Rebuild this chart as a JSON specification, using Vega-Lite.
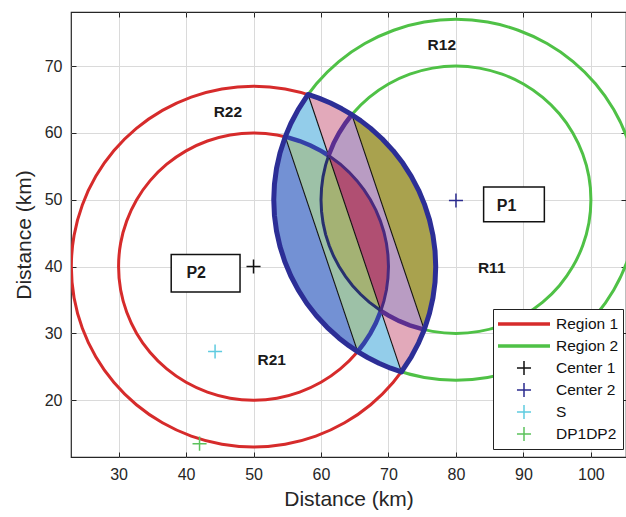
{
"$schema":"https://vega.github.io/schema/vega-lite/v6.json",
"width":555,"height":445,
"autosize":{"type":"none"},
"padding":{"left":71,"top":12,"right":0,"bottom":60},
"background":"white",
"datasets":{
"circles":[
{"c":"RO","s":"Region 1","i":0,"x":77,"y":40},{"c":"RO","s":"Region 1","i":1,"x":76.59,"y":44.69},{"c":"RO","s":"Region 1","i":2,"x":75.37,"y":49.23},{"c":"RO","s":"Region 1","i":3,"x":73.38,"y":53.5},{"c":"RO","s":"Region 1","i":4,"x":70.68,"y":57.36},{"c":"RO","s":"Region 1","i":5,"x":67.36,"y":60.68},{"c":"RO","s":"Region 1","i":6,"x":63.5,"y":63.38},{"c":"RO","s":"Region 1","i":7,"x":59.23,"y":65.37},{"c":"RO","s":"Region 1","i":8,"x":54.69,"y":66.59},{"c":"RO","s":"Region 1","i":9,"x":50,"y":67},{"c":"RO","s":"Region 1","i":10,"x":45.31,"y":66.59},{"c":"RO","s":"Region 1","i":11,"x":40.77,"y":65.37},{"c":"RO","s":"Region 1","i":12,"x":36.5,"y":63.38},{"c":"RO","s":"Region 1","i":13,"x":32.64,"y":60.68},{"c":"RO","s":"Region 1","i":14,"x":29.32,"y":57.36},{"c":"RO","s":"Region 1","i":15,"x":26.62,"y":53.5},{"c":"RO","s":"Region 1","i":16,"x":24.63,"y":49.23},{"c":"RO","s":"Region 1","i":17,"x":23.41,"y":44.69},{"c":"RO","s":"Region 1","i":18,"x":23,"y":40},{"c":"RO","s":"Region 1","i":19,"x":23.41,"y":35.31},{"c":"RO","s":"Region 1","i":20,"x":24.63,"y":30.77},{"c":"RO","s":"Region 1","i":21,"x":26.62,"y":26.5},{"c":"RO","s":"Region 1","i":22,"x":29.32,"y":22.64},{"c":"RO","s":"Region 1","i":23,"x":32.64,"y":19.32},{"c":"RO","s":"Region 1","i":24,"x":36.5,"y":16.62},{"c":"RO","s":"Region 1","i":25,"x":40.77,"y":14.63},{"c":"RO","s":"Region 1","i":26,"x":45.31,"y":13.41},{"c":"RO","s":"Region 1","i":27,"x":50,"y":13},{"c":"RO","s":"Region 1","i":28,"x":54.69,"y":13.41},{"c":"RO","s":"Region 1","i":29,"x":59.23,"y":14.63},{"c":"RO","s":"Region 1","i":30,"x":63.5,"y":16.62},{"c":"RO","s":"Region 1","i":31,"x":67.36,"y":19.32},{"c":"RO","s":"Region 1","i":32,"x":70.68,"y":22.64},{"c":"RO","s":"Region 1","i":33,"x":73.38,"y":26.5},{"c":"RO","s":"Region 1","i":34,"x":75.37,"y":30.77},{"c":"RO","s":"Region 1","i":35,"x":76.59,"y":35.31},
{"c":"RI","s":"Region 1","i":0,"x":70,"y":40},{"c":"RI","s":"Region 1","i":1,"x":69.7,"y":43.47},{"c":"RI","s":"Region 1","i":2,"x":68.79,"y":46.84},{"c":"RI","s":"Region 1","i":3,"x":67.32,"y":50},{"c":"RI","s":"Region 1","i":4,"x":65.32,"y":52.86},{"c":"RI","s":"Region 1","i":5,"x":62.86,"y":55.32},{"c":"RI","s":"Region 1","i":6,"x":60,"y":57.32},{"c":"RI","s":"Region 1","i":7,"x":56.84,"y":58.79},{"c":"RI","s":"Region 1","i":8,"x":53.47,"y":59.7},{"c":"RI","s":"Region 1","i":9,"x":50,"y":60},{"c":"RI","s":"Region 1","i":10,"x":46.53,"y":59.7},{"c":"RI","s":"Region 1","i":11,"x":43.16,"y":58.79},{"c":"RI","s":"Region 1","i":12,"x":40,"y":57.32},{"c":"RI","s":"Region 1","i":13,"x":37.14,"y":55.32},{"c":"RI","s":"Region 1","i":14,"x":34.68,"y":52.86},{"c":"RI","s":"Region 1","i":15,"x":32.68,"y":50},{"c":"RI","s":"Region 1","i":16,"x":31.21,"y":46.84},{"c":"RI","s":"Region 1","i":17,"x":30.3,"y":43.47},{"c":"RI","s":"Region 1","i":18,"x":30,"y":40},{"c":"RI","s":"Region 1","i":19,"x":30.3,"y":36.53},{"c":"RI","s":"Region 1","i":20,"x":31.21,"y":33.16},{"c":"RI","s":"Region 1","i":21,"x":32.68,"y":30},{"c":"RI","s":"Region 1","i":22,"x":34.68,"y":27.14},{"c":"RI","s":"Region 1","i":23,"x":37.14,"y":24.68},{"c":"RI","s":"Region 1","i":24,"x":40,"y":22.68},{"c":"RI","s":"Region 1","i":25,"x":43.16,"y":21.21},{"c":"RI","s":"Region 1","i":26,"x":46.53,"y":20.3},{"c":"RI","s":"Region 1","i":27,"x":50,"y":20},{"c":"RI","s":"Region 1","i":28,"x":53.47,"y":20.3},{"c":"RI","s":"Region 1","i":29,"x":56.84,"y":21.21},{"c":"RI","s":"Region 1","i":30,"x":60,"y":22.68},{"c":"RI","s":"Region 1","i":31,"x":62.86,"y":24.68},{"c":"RI","s":"Region 1","i":32,"x":65.32,"y":27.14},{"c":"RI","s":"Region 1","i":33,"x":67.32,"y":30},{"c":"RI","s":"Region 1","i":34,"x":68.79,"y":33.16},{"c":"RI","s":"Region 1","i":35,"x":69.7,"y":36.53},
{"c":"GO","s":"Region 2","i":0,"x":107,"y":50},{"c":"GO","s":"Region 2","i":1,"x":106.59,"y":54.69},{"c":"GO","s":"Region 2","i":2,"x":105.37,"y":59.23},{"c":"GO","s":"Region 2","i":3,"x":103.38,"y":63.5},{"c":"GO","s":"Region 2","i":4,"x":100.68,"y":67.36},{"c":"GO","s":"Region 2","i":5,"x":97.36,"y":70.68},{"c":"GO","s":"Region 2","i":6,"x":93.5,"y":73.38},{"c":"GO","s":"Region 2","i":7,"x":89.23,"y":75.37},{"c":"GO","s":"Region 2","i":8,"x":84.69,"y":76.59},{"c":"GO","s":"Region 2","i":9,"x":80,"y":77},{"c":"GO","s":"Region 2","i":10,"x":75.31,"y":76.59},{"c":"GO","s":"Region 2","i":11,"x":70.77,"y":75.37},{"c":"GO","s":"Region 2","i":12,"x":66.5,"y":73.38},{"c":"GO","s":"Region 2","i":13,"x":62.64,"y":70.68},{"c":"GO","s":"Region 2","i":14,"x":59.32,"y":67.36},{"c":"GO","s":"Region 2","i":15,"x":56.62,"y":63.5},{"c":"GO","s":"Region 2","i":16,"x":54.63,"y":59.23},{"c":"GO","s":"Region 2","i":17,"x":53.41,"y":54.69},{"c":"GO","s":"Region 2","i":18,"x":53,"y":50},{"c":"GO","s":"Region 2","i":19,"x":53.41,"y":45.31},{"c":"GO","s":"Region 2","i":20,"x":54.63,"y":40.77},{"c":"GO","s":"Region 2","i":21,"x":56.62,"y":36.5},{"c":"GO","s":"Region 2","i":22,"x":59.32,"y":32.64},{"c":"GO","s":"Region 2","i":23,"x":62.64,"y":29.32},{"c":"GO","s":"Region 2","i":24,"x":66.5,"y":26.62},{"c":"GO","s":"Region 2","i":25,"x":70.77,"y":24.63},{"c":"GO","s":"Region 2","i":26,"x":75.31,"y":23.41},{"c":"GO","s":"Region 2","i":27,"x":80,"y":23},{"c":"GO","s":"Region 2","i":28,"x":84.69,"y":23.41},{"c":"GO","s":"Region 2","i":29,"x":89.23,"y":24.63},{"c":"GO","s":"Region 2","i":30,"x":93.5,"y":26.62},{"c":"GO","s":"Region 2","i":31,"x":97.36,"y":29.32},{"c":"GO","s":"Region 2","i":32,"x":100.68,"y":32.64},{"c":"GO","s":"Region 2","i":33,"x":103.38,"y":36.5},{"c":"GO","s":"Region 2","i":34,"x":105.37,"y":40.77},{"c":"GO","s":"Region 2","i":35,"x":106.59,"y":45.31},
{"c":"GI","s":"Region 2","i":0,"x":100,"y":50},{"c":"GI","s":"Region 2","i":1,"x":99.7,"y":53.47},{"c":"GI","s":"Region 2","i":2,"x":98.79,"y":56.84},{"c":"GI","s":"Region 2","i":3,"x":97.32,"y":60},{"c":"GI","s":"Region 2","i":4,"x":95.32,"y":62.86},{"c":"GI","s":"Region 2","i":5,"x":92.86,"y":65.32},{"c":"GI","s":"Region 2","i":6,"x":90,"y":67.32},{"c":"GI","s":"Region 2","i":7,"x":86.84,"y":68.79},{"c":"GI","s":"Region 2","i":8,"x":83.47,"y":69.7},{"c":"GI","s":"Region 2","i":9,"x":80,"y":70},{"c":"GI","s":"Region 2","i":10,"x":76.53,"y":69.7},{"c":"GI","s":"Region 2","i":11,"x":73.16,"y":68.79},{"c":"GI","s":"Region 2","i":12,"x":70,"y":67.32},{"c":"GI","s":"Region 2","i":13,"x":67.14,"y":65.32},{"c":"GI","s":"Region 2","i":14,"x":64.68,"y":62.86},{"c":"GI","s":"Region 2","i":15,"x":62.68,"y":60},{"c":"GI","s":"Region 2","i":16,"x":61.21,"y":56.84},{"c":"GI","s":"Region 2","i":17,"x":60.3,"y":53.47},{"c":"GI","s":"Region 2","i":18,"x":60,"y":50},{"c":"GI","s":"Region 2","i":19,"x":60.3,"y":46.53},{"c":"GI","s":"Region 2","i":20,"x":61.21,"y":43.16},{"c":"GI","s":"Region 2","i":21,"x":62.68,"y":40},{"c":"GI","s":"Region 2","i":22,"x":64.68,"y":37.14},{"c":"GI","s":"Region 2","i":23,"x":67.14,"y":34.68},{"c":"GI","s":"Region 2","i":24,"x":70,"y":32.68},{"c":"GI","s":"Region 2","i":25,"x":73.16,"y":31.21},{"c":"GI","s":"Region 2","i":26,"x":76.53,"y":30.3},{"c":"GI","s":"Region 2","i":27,"x":80,"y":30},{"c":"GI","s":"Region 2","i":28,"x":83.47,"y":30.3},{"c":"GI","s":"Region 2","i":29,"x":86.84,"y":31.21},{"c":"GI","s":"Region 2","i":30,"x":90,"y":32.68},{"c":"GI","s":"Region 2","i":31,"x":92.86,"y":34.68},{"c":"GI","s":"Region 2","i":32,"x":95.32,"y":37.14},{"c":"GI","s":"Region 2","i":33,"x":97.32,"y":40},{"c":"GI","s":"Region 2","i":34,"x":98.79,"y":43.16},{"c":"GI","s":"Region 2","i":35,"x":99.7,"y":46.53}
],
"polys":[
{"p":"lb_top","r":"outer-left","i":0,"x":58.08,"y":65.76},{"p":"lb_top","r":"outer-left","i":1,"x":56.62,"y":63.5},{"p":"lb_top","r":"outer-left","i":2,"x":55.53,"y":61.41},{"p":"lb_top","r":"outer-left","i":3,"x":54.7,"y":59.44},{"p":"lb_top","r":"outer-left","i":4,"x":56.84,"y":58.79},{"p":"lb_top","r":"outer-left","i":5,"x":58.45,"y":58.13},{"p":"lb_top","r":"outer-left","i":6,"x":60,"y":57.32},{"p":"lb_top","r":"outer-left","i":7,"x":61.13,"y":56.62},
{"p":"lb_bot","r":"outer-left","i":0,"x":65.43,"y":27.27},{"p":"lb_bot","r":"outer-left","i":1,"x":66.91,"y":26.39},{"p":"lb_bot","r":"outer-left","i":2,"x":68.59,"y":25.53},{"p":"lb_bot","r":"outer-left","i":3,"x":70.32,"y":24.79},{"p":"lb_bot","r":"outer-left","i":4,"x":71.92,"y":24.24},{"p":"lb_bot","r":"outer-left","i":5,"x":68.87,"y":33.38},{"p":"lb_bot","r":"outer-left","i":6,"x":68.13,"y":31.55},{"p":"lb_bot","r":"outer-left","i":7,"x":67.32,"y":30},{"p":"lb_bot","r":"outer-left","i":8,"x":66.38,"y":28.53},
{"p":"pk_top","r":"outer-right","i":0,"x":58.08,"y":65.76},{"p":"pk_top","r":"outer-right","i":1,"x":59.68,"y":65.21},{"p":"pk_top","r":"outer-right","i":2,"x":61.41,"y":64.47},{"p":"pk_top","r":"outer-right","i":3,"x":63.09,"y":63.61},{"p":"pk_top","r":"outer-right","i":4,"x":64.57,"y":62.73},{"p":"pk_top","r":"outer-right","i":5,"x":63.62,"y":61.47},{"p":"pk_top","r":"outer-right","i":6,"x":62.68,"y":60},{"p":"pk_top","r":"outer-right","i":7,"x":61.87,"y":58.45},{"p":"pk_top","r":"outer-right","i":8,"x":61.13,"y":56.62},
{"p":"pk_bot","r":"outer-right","i":0,"x":71.92,"y":24.24},{"p":"pk_bot","r":"outer-right","i":1,"x":73.38,"y":26.5},{"p":"pk_bot","r":"outer-right","i":2,"x":74.47,"y":28.59},{"p":"pk_bot","r":"outer-right","i":3,"x":75.3,"y":30.56},{"p":"pk_bot","r":"outer-right","i":4,"x":73.16,"y":31.21},{"p":"pk_bot","r":"outer-right","i":5,"x":71.55,"y":31.87},{"p":"pk_bot","r":"outer-right","i":6,"x":70,"y":32.68},{"p":"pk_bot","r":"outer-right","i":7,"x":68.87,"y":33.38},
{"p":"blue","r":"band-left-a","i":0,"x":54.7,"y":59.44},{"p":"blue","r":"band-left-a","i":1,"x":53.92,"y":56.99},{"p":"blue","r":"band-left-a","i":2,"x":53.41,"y":54.69},{"p":"blue","r":"band-left-a","i":3,"x":53.1,"y":52.35},{"p":"blue","r":"band-left-a","i":4,"x":53,"y":50},{"p":"blue","r":"band-left-a","i":5,"x":53.1,"y":47.65},{"p":"blue","r":"band-left-a","i":6,"x":53.41,"y":45.31},{"p":"blue","r":"band-left-a","i":7,"x":53.92,"y":43.01},{"p":"blue","r":"band-left-a","i":8,"x":54.63,"y":40.77},{"p":"blue","r":"band-left-a","i":9,"x":55.53,"y":38.59},{"p":"blue","r":"band-left-a","i":10,"x":56.62,"y":36.5},{"p":"blue","r":"band-left-a","i":11,"x":57.88,"y":34.51},{"p":"blue","r":"band-left-a","i":12,"x":59.32,"y":32.64},{"p":"blue","r":"band-left-a","i":13,"x":60.91,"y":30.91},{"p":"blue","r":"band-left-a","i":14,"x":62.64,"y":29.32},{"p":"blue","r":"band-left-a","i":15,"x":64.13,"y":28.16},{"p":"blue","r":"band-left-a","i":16,"x":65.43,"y":27.27},
{"p":"teal","r":"band-left-b","i":0,"x":54.7,"y":59.44},{"p":"teal","r":"band-left-b","i":1,"x":65.43,"y":27.27},{"p":"teal","r":"band-left-b","i":2,"x":66.38,"y":28.53},{"p":"teal","r":"band-left-b","i":3,"x":67.32,"y":30},{"p":"teal","r":"band-left-b","i":4,"x":68.13,"y":31.55},{"p":"teal","r":"band-left-b","i":5,"x":68.87,"y":33.38},{"p":"teal","r":"band-left-b","i":6,"x":67.14,"y":34.68},{"p":"teal","r":"band-left-b","i":7,"x":65.86,"y":35.86},{"p":"teal","r":"band-left-b","i":8,"x":64.68,"y":37.14},{"p":"teal","r":"band-left-b","i":9,"x":63.62,"y":38.53},{"p":"teal","r":"band-left-b","i":10,"x":62.68,"y":40},{"p":"teal","r":"band-left-b","i":11,"x":61.87,"y":41.55},{"p":"teal","r":"band-left-b","i":12,"x":61.21,"y":43.16},{"p":"teal","r":"band-left-b","i":13,"x":60.68,"y":44.82},{"p":"teal","r":"band-left-b","i":14,"x":60.3,"y":46.53},{"p":"teal","r":"band-left-b","i":15,"x":60.08,"y":48.26},{"p":"teal","r":"band-left-b","i":16,"x":60,"y":50},{"p":"teal","r":"band-left-b","i":17,"x":60.08,"y":51.74},{"p":"teal","r":"band-left-b","i":18,"x":60.3,"y":53.47},{"p":"teal","r":"band-left-b","i":19,"x":60.68,"y":55.18},{"p":"teal","r":"band-left-b","i":20,"x":61.13,"y":56.62},{"p":"teal","r":"band-left-b","i":21,"x":60,"y":57.32},{"p":"teal","r":"band-left-b","i":22,"x":58.45,"y":58.13},{"p":"teal","r":"band-left-b","i":23,"x":56.84,"y":58.79},
{"p":"green","r":"inner-left","i":0,"x":61.13,"y":56.62},{"p":"green","r":"inner-left","i":1,"x":60.68,"y":55.18},{"p":"green","r":"inner-left","i":2,"x":60.3,"y":53.47},{"p":"green","r":"inner-left","i":3,"x":60.08,"y":51.74},{"p":"green","r":"inner-left","i":4,"x":60,"y":50},{"p":"green","r":"inner-left","i":5,"x":60.08,"y":48.26},{"p":"green","r":"inner-left","i":6,"x":60.3,"y":46.53},{"p":"green","r":"inner-left","i":7,"x":60.68,"y":44.82},{"p":"green","r":"inner-left","i":8,"x":61.21,"y":43.16},{"p":"green","r":"inner-left","i":9,"x":61.87,"y":41.55},{"p":"green","r":"inner-left","i":10,"x":62.68,"y":40},{"p":"green","r":"inner-left","i":11,"x":63.62,"y":38.53},{"p":"green","r":"inner-left","i":12,"x":64.68,"y":37.14},{"p":"green","r":"inner-left","i":13,"x":65.86,"y":35.86},{"p":"green","r":"inner-left","i":14,"x":67.14,"y":34.68},{"p":"green","r":"inner-left","i":15,"x":68.87,"y":33.38},
{"p":"maroon","r":"inner-right","i":0,"x":68.87,"y":33.38},{"p":"maroon","r":"inner-right","i":1,"x":69.32,"y":34.82},{"p":"maroon","r":"inner-right","i":2,"x":69.7,"y":36.53},{"p":"maroon","r":"inner-right","i":3,"x":69.92,"y":38.26},{"p":"maroon","r":"inner-right","i":4,"x":70,"y":40},{"p":"maroon","r":"inner-right","i":5,"x":69.92,"y":41.74},{"p":"maroon","r":"inner-right","i":6,"x":69.7,"y":43.47},{"p":"maroon","r":"inner-right","i":7,"x":69.32,"y":45.18},{"p":"maroon","r":"inner-right","i":8,"x":68.79,"y":46.84},{"p":"maroon","r":"inner-right","i":9,"x":68.13,"y":48.45},{"p":"maroon","r":"inner-right","i":10,"x":67.32,"y":50},{"p":"maroon","r":"inner-right","i":11,"x":66.38,"y":51.47},{"p":"maroon","r":"inner-right","i":12,"x":65.32,"y":52.86},{"p":"maroon","r":"inner-right","i":13,"x":64.14,"y":54.14},{"p":"maroon","r":"inner-right","i":14,"x":62.86,"y":55.32},{"p":"maroon","r":"inner-right","i":15,"x":61.13,"y":56.62},
{"p":"mauve","r":"band-right-a","i":0,"x":64.57,"y":62.73},{"p":"mauve","r":"band-right-a","i":1,"x":75.3,"y":30.56},{"p":"mauve","r":"band-right-a","i":2,"x":73.16,"y":31.21},{"p":"mauve","r":"band-right-a","i":3,"x":71.55,"y":31.87},{"p":"mauve","r":"band-right-a","i":4,"x":70,"y":32.68},{"p":"mauve","r":"band-right-a","i":5,"x":68.87,"y":33.38},{"p":"mauve","r":"band-right-a","i":6,"x":69.32,"y":34.82},{"p":"mauve","r":"band-right-a","i":7,"x":69.7,"y":36.53},{"p":"mauve","r":"band-right-a","i":8,"x":69.92,"y":38.26},{"p":"mauve","r":"band-right-a","i":9,"x":70,"y":40},{"p":"mauve","r":"band-right-a","i":10,"x":69.92,"y":41.74},{"p":"mauve","r":"band-right-a","i":11,"x":69.7,"y":43.47},{"p":"mauve","r":"band-right-a","i":12,"x":69.32,"y":45.18},{"p":"mauve","r":"band-right-a","i":13,"x":68.79,"y":46.84},{"p":"mauve","r":"band-right-a","i":14,"x":68.13,"y":48.45},{"p":"mauve","r":"band-right-a","i":15,"x":67.32,"y":50},{"p":"mauve","r":"band-right-a","i":16,"x":66.38,"y":51.47},{"p":"mauve","r":"band-right-a","i":17,"x":65.32,"y":52.86},{"p":"mauve","r":"band-right-a","i":18,"x":64.14,"y":54.14},{"p":"mauve","r":"band-right-a","i":19,"x":62.86,"y":55.32},{"p":"mauve","r":"band-right-a","i":20,"x":61.13,"y":56.62},{"p":"mauve","r":"band-right-a","i":21,"x":61.87,"y":58.45},{"p":"mauve","r":"band-right-a","i":22,"x":62.68,"y":60},{"p":"mauve","r":"band-right-a","i":23,"x":63.62,"y":61.47},
{"p":"olive","r":"band-right-b","i":0,"x":75.3,"y":30.56},{"p":"olive","r":"band-right-b","i":1,"x":76.08,"y":33.01},{"p":"olive","r":"band-right-b","i":2,"x":76.59,"y":35.31},{"p":"olive","r":"band-right-b","i":3,"x":76.9,"y":37.65},{"p":"olive","r":"band-right-b","i":4,"x":77,"y":40},{"p":"olive","r":"band-right-b","i":5,"x":76.9,"y":42.35},{"p":"olive","r":"band-right-b","i":6,"x":76.59,"y":44.69},{"p":"olive","r":"band-right-b","i":7,"x":76.08,"y":46.99},{"p":"olive","r":"band-right-b","i":8,"x":75.37,"y":49.23},{"p":"olive","r":"band-right-b","i":9,"x":74.47,"y":51.41},{"p":"olive","r":"band-right-b","i":10,"x":73.38,"y":53.5},{"p":"olive","r":"band-right-b","i":11,"x":72.12,"y":55.49},{"p":"olive","r":"band-right-b","i":12,"x":70.68,"y":57.36},{"p":"olive","r":"band-right-b","i":13,"x":69.09,"y":59.09},{"p":"olive","r":"band-right-b","i":14,"x":67.36,"y":60.68},{"p":"olive","r":"band-right-b","i":15,"x":65.87,"y":61.84},{"p":"olive","r":"band-right-b","i":16,"x":64.57,"y":62.73}
],
"chords":[
{"l":"chord","i":0,"x":58.08,"y":65.76},{"l":"chord","i":1,"x":71.92,"y":24.24},
{"l":"line2","i":0,"x":54.7,"y":59.44},{"l":"line2","i":1,"x":65.43,"y":27.27},
{"l":"line3","i":0,"x":64.57,"y":62.73},{"l":"line3","i":1,"x":75.3,"y":30.56}
],
"arcs":[
{"a":"ri_top","k":"red-outer-part","i":0,"x":54.7,"y":59.44},{"a":"ri_top","k":"red-outer-part","i":1,"x":56.84,"y":58.79},{"a":"ri_top","k":"red-outer-part","i":2,"x":58.45,"y":58.13},{"a":"ri_top","k":"red-outer-part","i":3,"x":60,"y":57.32},{"a":"ri_top","k":"red-outer-part","i":4,"x":61.13,"y":56.62},
{"a":"ri_bot","k":"red-outer-part","i":0,"x":65.43,"y":27.27},{"a":"ri_bot","k":"red-outer-part","i":1,"x":66.38,"y":28.53},{"a":"ri_bot","k":"red-outer-part","i":2,"x":67.32,"y":30},{"a":"ri_bot","k":"red-outer-part","i":3,"x":68.13,"y":31.55},{"a":"ri_bot","k":"red-outer-part","i":4,"x":68.87,"y":33.38},
{"a":"gi_top","k":"green-outer-part","i":0,"x":64.57,"y":62.73},{"a":"gi_top","k":"green-outer-part","i":1,"x":63.62,"y":61.47},{"a":"gi_top","k":"green-outer-part","i":2,"x":62.68,"y":60},{"a":"gi_top","k":"green-outer-part","i":3,"x":61.87,"y":58.45},{"a":"gi_top","k":"green-outer-part","i":4,"x":61.13,"y":56.62},
{"a":"gi_bot","k":"green-outer-part","i":0,"x":75.3,"y":30.56},{"a":"gi_bot","k":"green-outer-part","i":1,"x":73.16,"y":31.21},{"a":"gi_bot","k":"green-outer-part","i":2,"x":71.55,"y":31.87},{"a":"gi_bot","k":"green-outer-part","i":3,"x":70,"y":32.68},{"a":"gi_bot","k":"green-outer-part","i":4,"x":68.87,"y":33.38},
{"a":"in_left","k":"inner-left","i":0,"x":61.13,"y":56.62},{"a":"in_left","k":"inner-left","i":1,"x":60.68,"y":55.18},{"a":"in_left","k":"inner-left","i":2,"x":60.3,"y":53.47},{"a":"in_left","k":"inner-left","i":3,"x":60.08,"y":51.74},{"a":"in_left","k":"inner-left","i":4,"x":60,"y":50},{"a":"in_left","k":"inner-left","i":5,"x":60.08,"y":48.26},{"a":"in_left","k":"inner-left","i":6,"x":60.3,"y":46.53},{"a":"in_left","k":"inner-left","i":7,"x":60.68,"y":44.82},{"a":"in_left","k":"inner-left","i":8,"x":61.21,"y":43.16},{"a":"in_left","k":"inner-left","i":9,"x":61.87,"y":41.55},{"a":"in_left","k":"inner-left","i":10,"x":62.68,"y":40},{"a":"in_left","k":"inner-left","i":11,"x":63.62,"y":38.53},{"a":"in_left","k":"inner-left","i":12,"x":64.68,"y":37.14},{"a":"in_left","k":"inner-left","i":13,"x":65.86,"y":35.86},{"a":"in_left","k":"inner-left","i":14,"x":67.14,"y":34.68},{"a":"in_left","k":"inner-left","i":15,"x":68.87,"y":33.38},
{"a":"in_right","k":"inner-right","i":0,"x":68.87,"y":33.38},{"a":"in_right","k":"inner-right","i":1,"x":69.32,"y":34.82},{"a":"in_right","k":"inner-right","i":2,"x":69.7,"y":36.53},{"a":"in_right","k":"inner-right","i":3,"x":69.92,"y":38.26},{"a":"in_right","k":"inner-right","i":4,"x":70,"y":40},{"a":"in_right","k":"inner-right","i":5,"x":69.92,"y":41.74},{"a":"in_right","k":"inner-right","i":6,"x":69.7,"y":43.47},{"a":"in_right","k":"inner-right","i":7,"x":69.32,"y":45.18},{"a":"in_right","k":"inner-right","i":8,"x":68.79,"y":46.84},{"a":"in_right","k":"inner-right","i":9,"x":68.13,"y":48.45},{"a":"in_right","k":"inner-right","i":10,"x":67.32,"y":50},{"a":"in_right","k":"inner-right","i":11,"x":66.38,"y":51.47},{"a":"in_right","k":"inner-right","i":12,"x":65.32,"y":52.86},{"a":"in_right","k":"inner-right","i":13,"x":64.14,"y":54.14},{"a":"in_right","k":"inner-right","i":14,"x":62.86,"y":55.32},{"a":"in_right","k":"inner-right","i":15,"x":61.13,"y":56.62}
],
"lens":[
{"i":0,"x":58.08,"y":65.76},{"i":1,"x":56.62,"y":63.5},{"i":2,"x":55.53,"y":61.41},{"i":3,"x":54.7,"y":59.44},{"i":4,"x":53.92,"y":56.99},{"i":5,"x":53.41,"y":54.69},{"i":6,"x":53.1,"y":52.35},{"i":7,"x":53,"y":50},{"i":8,"x":53.1,"y":47.65},{"i":9,"x":53.41,"y":45.31},{"i":10,"x":53.92,"y":43.01},{"i":11,"x":54.63,"y":40.77},{"i":12,"x":55.53,"y":38.59},{"i":13,"x":56.62,"y":36.5},{"i":14,"x":57.88,"y":34.51},{"i":15,"x":59.32,"y":32.64},{"i":16,"x":60.91,"y":30.91},{"i":17,"x":62.64,"y":29.32},{"i":18,"x":64.13,"y":28.16},{"i":19,"x":65.43,"y":27.27},{"i":20,"x":66.91,"y":26.39},{"i":21,"x":68.59,"y":25.53},{"i":22,"x":70.32,"y":24.79},{"i":23,"x":71.92,"y":24.24},{"i":24,"x":73.38,"y":26.5},{"i":25,"x":74.47,"y":28.59},{"i":26,"x":75.3,"y":30.56},{"i":27,"x":76.08,"y":33.01},{"i":28,"x":76.59,"y":35.31},{"i":29,"x":76.9,"y":37.65},{"i":30,"x":77,"y":40},{"i":31,"x":76.9,"y":42.35},{"i":32,"x":76.59,"y":44.69},{"i":33,"x":76.08,"y":46.99},{"i":34,"x":75.37,"y":49.23},{"i":35,"x":74.47,"y":51.41},{"i":36,"x":73.38,"y":53.5},{"i":37,"x":72.12,"y":55.49},{"i":38,"x":70.68,"y":57.36},{"i":39,"x":69.09,"y":59.09},{"i":40,"x":67.36,"y":60.68},{"i":41,"x":65.87,"y":61.84},{"i":42,"x":64.57,"y":62.73},{"i":43,"x":63.09,"y":63.61},{"i":44,"x":61.41,"y":64.47},{"i":45,"x":59.68,"y":65.21}
],
"points":[
{"series":"Center 1","x":50,"y":40},{"series":"Center 2","x":80,"y":49.9},{"series":"S","x":44.3,"y":27.3},{"series":"DP1DP2","x":42,"y":13.5}
],
"labels":[
{"t":"R12","x":77.9,"y":73.2},{"t":"R22","x":46.2,"y":63.2},{"t":"R11","x":85.3,"y":39.8},{"t":"R21","x":52.7,"y":26.0}
],
"boxes":[
{"t":"P2","x1":37.8,"x2":48.0,"y1":36.2,"y2":41.8,"tx":41.5,"ty":39.0},
{"t":"P1","x1":84.1,"x2":93.1,"y1":46.7,"y2":51.9,"tx":87.5,"ty":49.0}
]
},
"resolve":{"axis":{"x":"independent","y":"independent"}},
"layer":[
{"data":{"name":"circles"},
 "transform":[{"filter":"datum.s == 'Region 1'"}],
 "mark":{"type":"line","interpolate":"cardinal-closed","strokeWidth":3,"color":"#d62b2b","clip":true},
 "encoding":{
  "x":{"field":"x","type":"quantitative","title":"Distance (km)","scale":{"domain":[22.95,105.2],"nice":false,"zero":false},"axis":{"values":[30,40,50,60,70,80,90,100],"grid":true}},
  "y":{"field":"y","type":"quantitative","title":"Distance (km)","scale":{"domain":[11.5,78.1],"nice":false,"zero":false},"axis":{"values":[20,30,40,50,60,70],"grid":true}},
  "order":{"field":"i","type":"quantitative"},
  "detail":{"field":"c"}
 }},
{"data":{"name":"circles"},
 "transform":[{"filter":"datum.s == 'Region 2'"}],
 "mark":{"type":"line","interpolate":"cardinal-closed","strokeWidth":3,"color":"#4fc146","clip":true},
 "encoding":{
  "x":{"field":"x","type":"quantitative","axis":{"orient":"top","values":[30,40,50,60,70,80,90,100],"labels":false,"grid":false,"title":null}},
  "y":{"field":"y","type":"quantitative","axis":{"orient":"right","values":[20,30,40,50,60,70],"labels":false,"grid":false,"title":null}},
  "order":{"field":"i","type":"quantitative"},
  "detail":{"field":"c"}
 }},
{"data":{"name":"polys"},
 "mark":{"type":"line","interpolate":"linear-closed","strokeWidth":0,"strokeOpacity":0,"clip":true},
 "encoding":{
  "x":{"field":"x","type":"quantitative","axis":null},
  "y":{"field":"y","type":"quantitative","axis":null},
  "order":{"field":"i","type":"quantitative"},
  "detail":{"field":"p"},
  "fill":{"field":"r","type":"nominal","scale":{"domain":["outer-left","outer-right","band-left-a","band-left-b","inner-left","inner-right","band-right-a","band-right-b"],"range":["#93cdea","#e2a9ba","#7391d4","#9dc1a7","#a4b274","#b04f72","#b99cc3","#a9a24e"]},"legend":null}
 }},
{"data":{"name":"chords"},
 "mark":{"type":"line","color":"#111111","strokeWidth":1.1},
 "encoding":{
  "x":{"field":"x","type":"quantitative","axis":null},
  "y":{"field":"y","type":"quantitative","axis":null},
  "order":{"field":"i","type":"quantitative"},
  "detail":{"field":"l"}
 }},
{"data":{"name":"arcs"},
 "transform":[{"filter":"datum.k == 'red-outer-part'"}],
 "mark":{"type":"line","color":"#3441a8","strokeWidth":4.5,"strokeCap":"round"},
 "encoding":{
  "x":{"field":"x","type":"quantitative","axis":null},
  "y":{"field":"y","type":"quantitative","axis":null},
  "order":{"field":"i","type":"quantitative"},
  "detail":{"field":"a"}
 }},
{"data":{"name":"arcs"},
 "transform":[{"filter":"datum.k == 'green-outer-part'"}],
 "mark":{"type":"line","color":"#5b2f90","strokeWidth":4.5,"strokeCap":"round"},
 "encoding":{
  "x":{"field":"x","type":"quantitative","axis":null},
  "y":{"field":"y","type":"quantitative","axis":null},
  "order":{"field":"i","type":"quantitative"},
  "detail":{"field":"a"}
 }},
{"data":{"name":"arcs"},
 "transform":[{"filter":"datum.k == 'inner-left'"}],
 "mark":{"type":"line","color":"#28306e","strokeWidth":3},
 "encoding":{
  "x":{"field":"x","type":"quantitative","axis":null},
  "y":{"field":"y","type":"quantitative","axis":null},
  "order":{"field":"i","type":"quantitative"},
  "detail":{"field":"a"}
 }},
{"data":{"name":"arcs"},
 "transform":[{"filter":"datum.k == 'inner-right'"}],
 "mark":{"type":"line","color":"#4a2a7e","strokeWidth":3},
 "encoding":{
  "x":{"field":"x","type":"quantitative","axis":null},
  "y":{"field":"y","type":"quantitative","axis":null},
  "order":{"field":"i","type":"quantitative"},
  "detail":{"field":"a"}
 }},
{"data":{"name":"lens"},
 "mark":{"type":"line","interpolate":"linear-closed","color":"#2c2e96","strokeWidth":5,"strokeJoin":"round"},
 "encoding":{
  "x":{"field":"x","type":"quantitative","axis":null},
  "y":{"field":"y","type":"quantitative","axis":null},
  "order":{"field":"i","type":"quantitative"}
 }},
{"data":{"name":"boxes"},
 "mark":{"type":"rect","fill":"white","stroke":"#111111","strokeWidth":1.5},
 "encoding":{
  "x":{"field":"x1","type":"quantitative","axis":null},
  "x2":{"field":"x2"},
  "y":{"field":"y1","type":"quantitative","axis":null},
  "y2":{"field":"y2"}
 }},
{"data":{"name":"boxes"},
 "mark":{"type":"text","font":"Liberation Sans","fontWeight":"bold","fontSize":16,"color":"#1a1a1a"},
 "encoding":{
  "x":{"field":"tx","type":"quantitative","axis":null},
  "y":{"field":"ty","type":"quantitative","axis":null},
  "text":{"field":"t"}
 }},
{"data":{"name":"labels"},
 "mark":{"type":"text","font":"Liberation Sans","fontWeight":"bold","fontSize":15.5,"color":"#1a1a1a"},
 "encoding":{
  "x":{"field":"x","type":"quantitative","axis":null},
  "y":{"field":"y","type":"quantitative","axis":null},
  "text":{"field":"t"}
 }},
{"data":{"name":"points"},
 "mark":{"type":"point","filled":false,"size":2704,"opacity":1,"strokeWidth":1.5},
 "encoding":{
  "x":{"field":"x","type":"quantitative","axis":null},
  "y":{"field":"y","type":"quantitative","axis":null},
  "color":{"field":"series","type":"nominal","scale":{"domain":["Region 1","Region 2","Center 1","Center 2","S","DP1DP2"],"range":["#d62b2b","#4fc146","#111111","#2b2b8e","#5fcbe0","#5cc25c"]},
    "legend":{"title":null,"orient":"none","legendX":422,"legendY":297,"symbolSize":2704,"symbolStrokeWidth":1.5,"clipHeight":22,"rowPadding":0,"padding":4,"labelOffset":5,"labelFontSize":15.5,"labelFont":"Liberation Sans","labelColor":"#111111","strokeColor":"#222222","fillColor":"white","symbolOffset":0}},
  "shape":{"field":"series","type":"nominal","scale":{"domain":["Region 1","Region 2","Center 1","Center 2","S","DP1DP2"],"range":["M-1,-0.035H1M-1,0H1M-1,0.035H1","M-1,-0.035H1M-1,0H1M-1,0.035H1","M-0.27,0H0.27M0,-0.27V0.27","M-0.27,0H0.27M0,-0.27V0.27","M-0.27,0H0.27M0,-0.27V0.27","M-0.27,0H0.27M0,-0.27V0.27"]}}
 }}
],
"config":{
 "view":{"stroke":"#262626","strokeWidth":1.2},
 "axis":{"gridColor":"#dadada","gridWidth":1,"domain":false,"tickColor":"#262626","tickSize":-5,"labelFont":"Liberation Sans","labelFontSize":16,"labelColor":"#262626","titleFont":"Liberation Sans","titleFontSize":21,"titleFontWeight":"normal","titleColor":"#262626","labelPadding":14},
 "axisX":{"titlePadding":6},
 "axisY":{"titlePadding":10}
}
}
